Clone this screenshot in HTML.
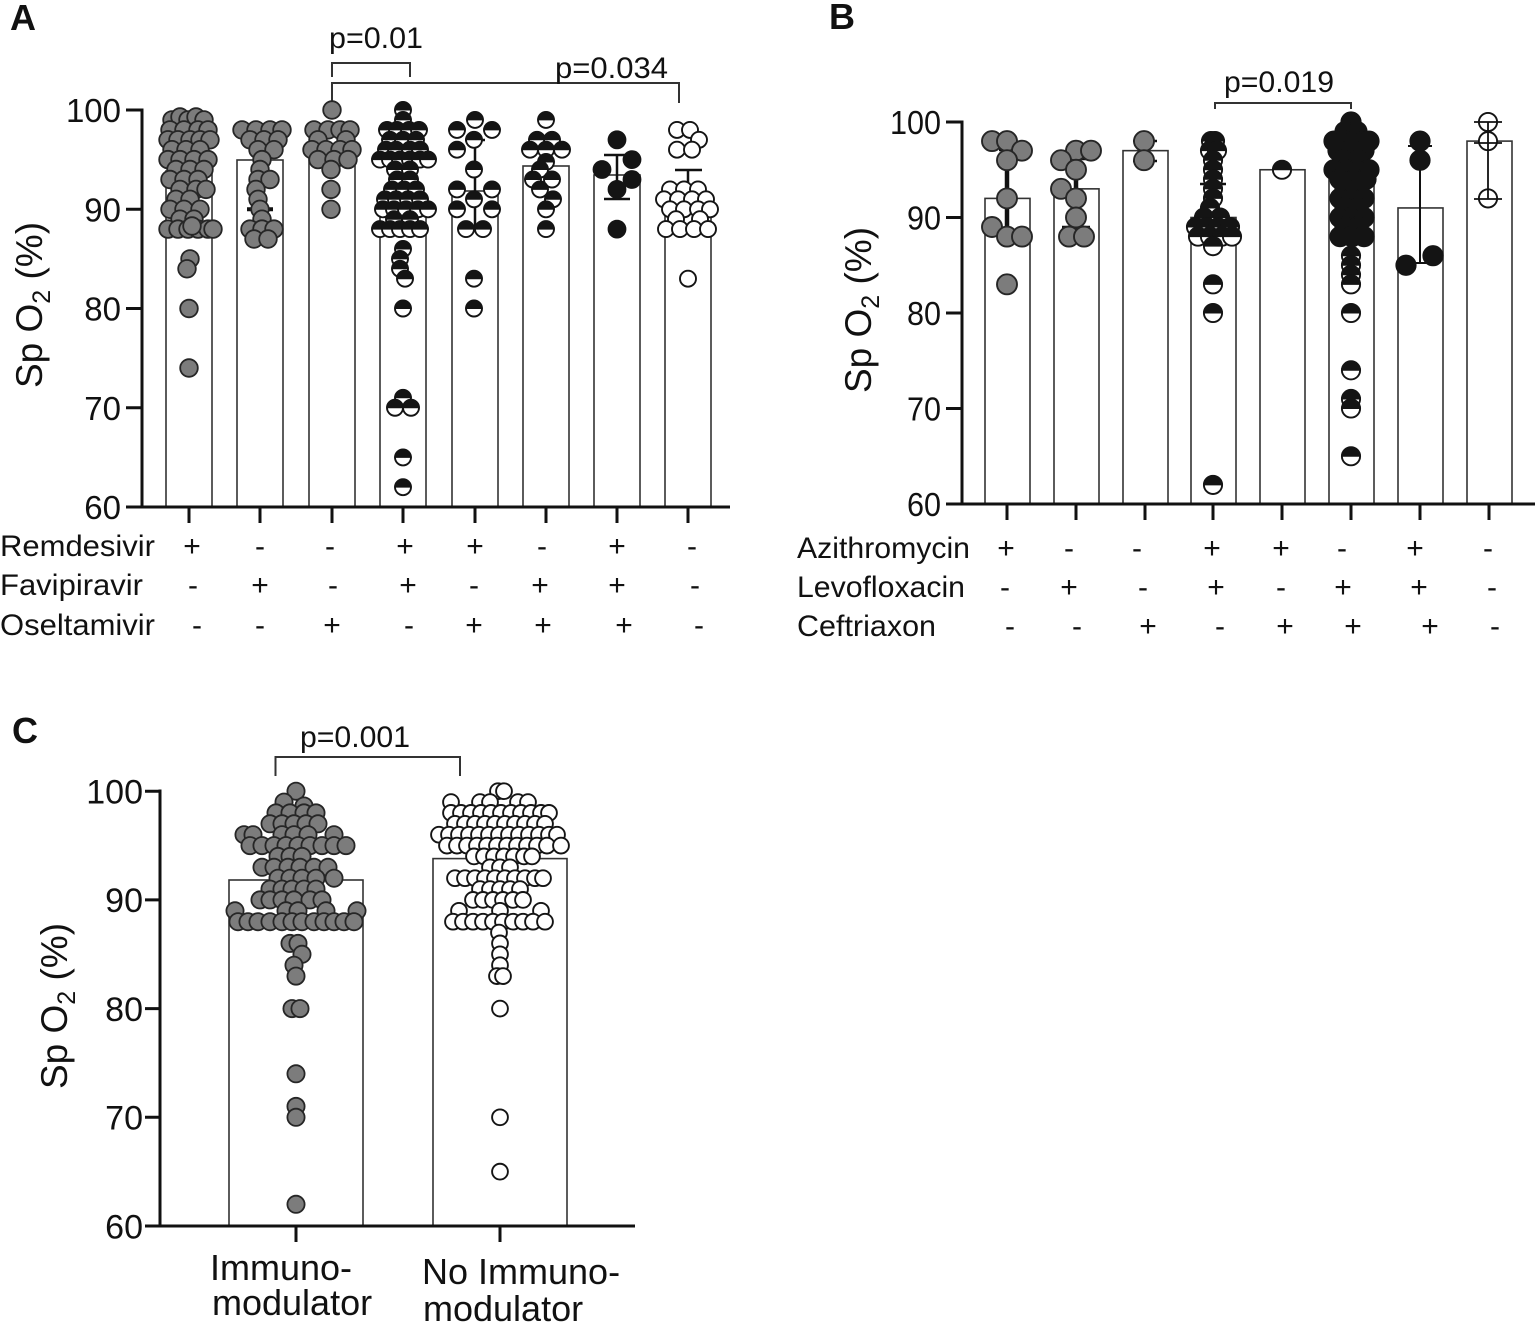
<!DOCTYPE html>
<html><head><meta charset="utf-8"><style>
html,body{margin:0;padding:0;background:#fff;}
svg{display:block;}
text{font-family:"Liberation Sans",Arial,sans-serif;fill:#111;}
</style></head><body>
<svg width="1535" height="1324" viewBox="0 0 1535 1324" xmlns="http://www.w3.org/2000/svg">
<defs>
<circle id="g8" r="8.8" fill="#7c7c7c" stroke="#262626" stroke-width="1.8"/>
<circle id="k8" r="8.8" fill="#141414" stroke="#141414" stroke-width="1.2"/>
<circle id="o8" r="8" fill="#fff" stroke="#141414" stroke-width="1.9"/>
<g id="h8"><circle r="8" fill="#fff" stroke="#141414" stroke-width="1.9"/><path d="M-8.8,0.5A8.8,8.8 0 0 1 8.8,0.5Z" fill="#141414"/></g>
<circle id="g9" r="10" fill="#7c7c7c" stroke="#262626" stroke-width="1.9"/>
<circle id="k9" r="10" fill="#141414" stroke="#141414" stroke-width="1.2"/>
<circle id="o9" r="9.1" fill="#fff" stroke="#141414" stroke-width="1.9"/>
<g id="h9"><circle r="9.1" fill="#fff" stroke="#141414" stroke-width="1.9"/><path d="M-10,0.5A10,10 0 0 1 10,0.5Z" fill="#141414"/></g>
<circle id="gc" r="8.6" fill="#7c7c7c" stroke="#262626" stroke-width="1.8"/>
<circle id="oc" r="7.9" fill="#fff" stroke="#141414" stroke-width="1.9"/>
</defs>

<!-- ================= PANEL A ================= -->
<text x="10" y="30" font-size="36" font-weight="bold">A</text>
<text transform="translate(42,305) rotate(-90)" text-anchor="middle" font-size="37">Sp O<tspan dy="8" font-size="25">2</tspan><tspan dy="-8"> (%)</tspan></text>
<g font-size="33" text-anchor="end">
<text x="121" y="122">100</text>
<text x="121" y="221.3">90</text>
<text x="121" y="320.5">80</text>
<text x="121" y="419.8">70</text>
<text x="121" y="519">60</text>
</g>
<g fill="#fff" stroke="#333" stroke-width="1.6">
<rect x="166" y="171" width="46" height="336"/>
<rect x="237" y="160" width="46" height="347"/>
<rect x="309" y="151" width="46" height="356"/>
<rect x="380" y="199.3" width="46" height="307.7"/>
<rect x="452" y="191" width="46" height="316"/>
<rect x="523" y="166" width="46" height="341"/>
<rect x="594" y="175" width="46" height="332"/>
<rect x="665" y="209.3" width="46" height="297.7"/>
</g>
<g stroke="#111" stroke-width="3" fill="none">
<path d="M142,108.5V507"/>
<path d="M126,110H142M126,209.3H142M126,308.5H142M126,407.75H142M126,507H142"/>
<path d="M140.5,507H730"/>
<path d="M189,507V523M260,507V523M332,507V523M403,507V523M475,507V523M546,507V523M617,507V523M688,507V523"/>
</g>
<g stroke="#333" stroke-width="2" fill="none">
<path d="M332,77V63H410V77"/>
<path d="M332,101V83H679V103"/>
</g>
<text x="329" y="48" font-size="30" textLength="94" lengthAdjust="spacingAndGlyphs">p=0.01</text>
<text x="555" y="78" font-size="30" textLength="113" lengthAdjust="spacingAndGlyphs">p=0.034</text>

<g>
<use href="#g8" x="172" y="119.9"/><use href="#g8" x="180" y="117"/><use href="#g8" x="188" y="119.9"/><use href="#g8" x="196" y="117"/><use href="#g8" x="204" y="119.9"/>
<use href="#g8" x="170" y="129.9"/><use href="#g8" x="184" y="129.9"/><use href="#g8" x="198" y="129.9"/><use href="#g8" x="208" y="129.9"/>
<use href="#g8" x="168" y="139.8"/><use href="#g8" x="178" y="139.8"/><use href="#g8" x="190" y="139.8"/><use href="#g8" x="200" y="139.8"/><use href="#g8" x="210" y="139.8"/>
<use href="#g8" x="172" y="149.7"/><use href="#g8" x="186" y="149.7"/><use href="#g8" x="200" y="149.7"/>
<use href="#g8" x="168" y="159.6"/><use href="#g8" x="180" y="159.6"/><use href="#g8" x="194" y="159.6"/><use href="#g8" x="208" y="159.6"/>
<use href="#g8" x="176" y="169.5"/><use href="#g8" x="190" y="169.5"/><use href="#g8" x="204" y="169.5"/>
<use href="#g8" x="170" y="179.5"/><use href="#g8" x="184" y="179.5"/><use href="#g8" x="198" y="179.5"/>
<use href="#g8" x="180" y="189.4"/><use href="#g8" x="196" y="189.4"/><use href="#g8" x="206" y="189.4"/>
<use href="#g8" x="176" y="199.3"/><use href="#g8" x="190" y="199.3"/>
<use href="#g8" x="170" y="209.3"/><use href="#g8" x="184" y="209.3"/><use href="#g8" x="200" y="209.3"/>
<use href="#g8" x="180" y="219.2"/><use href="#g8" x="194" y="219.2"/>
<use href="#g8" x="168" y="229.1"/><use href="#g8" x="178" y="229.1"/><use href="#g8" x="188" y="229.1"/><use href="#g8" x="198" y="229.1"/><use href="#g8" x="208" y="229.1"/><use href="#g8" x="213" y="229.1"/><use href="#g8" x="192" y="226"/>
<use href="#g8" x="190" y="258.9"/><use href="#g8" x="187" y="268.8"/><use href="#g8" x="189" y="308.5"/><use href="#g8" x="189" y="368"/>
</g>
<g>
<use href="#g8" x="242" y="129.9"/><use href="#g8" x="256" y="129.9"/><use href="#g8" x="270" y="129.9"/><use href="#g8" x="282" y="129.9"/>
<use href="#g8" x="250" y="139.8"/><use href="#g8" x="264" y="139.8"/><use href="#g8" x="278" y="139.8"/>
<use href="#g8" x="258" y="149.7"/><use href="#g8" x="274" y="149.7"/>
<use href="#g8" x="262" y="159.6"/><use href="#g8" x="260" y="169.5"/>
<use href="#g8" x="258" y="179.5"/><use href="#g8" x="270" y="179.5"/>
<use href="#g8" x="256" y="189.4"/><use href="#g8" x="258" y="199.3"/>
</g>
<path d="M247,209.3H273" stroke="#111" stroke-width="4"/>
<g>
<use href="#g8" x="260" y="209.3"/><use href="#g8" x="262" y="219.2"/>
<use href="#g8" x="250" y="229.1"/><use href="#g8" x="262" y="229.1"/><use href="#g8" x="274" y="229.1"/>
<use href="#g8" x="254" y="239"/><use href="#g8" x="268" y="239"/>
</g>
<g>
<use href="#g8" x="332" y="110"/>
<use href="#g8" x="314" y="129.9"/><use href="#g8" x="328" y="129.9"/><use href="#g8" x="340" y="129.9"/><use href="#g8" x="350" y="129.9"/>
<use href="#g8" x="318" y="139.8"/><use href="#g8" x="346" y="139.8"/>
<use href="#g8" x="312" y="149.7"/><use href="#g8" x="326" y="149.7"/><use href="#g8" x="340" y="149.7"/><use href="#g8" x="352" y="149.7"/>
<use href="#g8" x="318" y="159.6"/><use href="#g8" x="334" y="159.6"/><use href="#g8" x="348" y="159.6"/>
<use href="#g8" x="331" y="169.5"/><use href="#g8" x="331" y="189.4"/><use href="#g8" x="331" y="209.3"/>
</g>
<g>
<use href="#h8" x="403" y="110"/><use href="#h8" x="403" y="119.9"/>
<use href="#h8" x="387" y="129.9"/><use href="#h8" x="397" y="129.9"/><use href="#h8" x="409" y="129.9"/><use href="#h8" x="419" y="129.9"/>
<use href="#h8" x="390" y="139.8"/><use href="#h8" x="403" y="139.8"/><use href="#h8" x="416" y="139.8"/>
<use href="#h8" x="386" y="149.7"/><use href="#h8" x="396" y="149.7"/><use href="#h8" x="410" y="149.7"/><use href="#h8" x="420" y="149.7"/>
<use href="#h8" x="380" y="159.6"/><use href="#h8" x="390" y="159.6"/><use href="#h8" x="400" y="159.6"/><use href="#h8" x="410" y="159.6"/><use href="#h8" x="420" y="159.6"/><use href="#h8" x="428" y="159.6"/>
<use href="#h8" x="395" y="169.5"/><use href="#h8" x="410" y="169.5"/>
<use href="#h8" x="397" y="179.5"/><use href="#h8" x="410" y="179.5"/>
<use href="#h8" x="392" y="189.4"/><use href="#h8" x="404" y="189.4"/><use href="#h8" x="416" y="189.4"/>
<use href="#h8" x="385" y="199.3"/><use href="#h8" x="396" y="199.3"/><use href="#h8" x="408" y="199.3"/><use href="#h8" x="420" y="199.3"/>
<use href="#h8" x="383" y="209.3"/><use href="#h8" x="394" y="209.3"/><use href="#h8" x="406" y="209.3"/><use href="#h8" x="418" y="209.3"/><use href="#h8" x="428" y="209.3"/>
<use href="#h8" x="394" y="219.2"/><use href="#h8" x="410" y="219.2"/>
<use href="#h8" x="380" y="229.1"/><use href="#h8" x="390" y="229.1"/><use href="#h8" x="400" y="229.1"/><use href="#h8" x="410" y="229.1"/><use href="#h8" x="420" y="229.1"/>
<use href="#h8" x="403" y="249"/><use href="#h8" x="400" y="258.9"/><use href="#h8" x="400" y="268.8"/><use href="#h8" x="405" y="278.7"/>
<use href="#h8" x="403" y="308.5"/><use href="#h8" x="403" y="397.8"/>
<use href="#h8" x="395" y="407.75"/><use href="#h8" x="411" y="407.75"/>
<use href="#h8" x="403" y="457.4"/><use href="#h8" x="403" y="487.15"/>
</g>
<path d="M475,140V229M465,140H485" stroke="#111" stroke-width="2.5" fill="none"/>
<g>
<use href="#h8" x="475" y="119.9"/>
<use href="#h8" x="457" y="129.9"/><use href="#h8" x="492" y="129.9"/>
<use href="#h8" x="474" y="139.8"/><use href="#h8" x="457" y="149.7"/>
<use href="#h8" x="474" y="169.5"/>
<use href="#h8" x="457" y="189.4"/><use href="#h8" x="492" y="189.4"/>
<use href="#h8" x="474" y="199.3"/>
<use href="#h8" x="457" y="209.3"/><use href="#h8" x="492" y="209.3"/>
<use href="#h8" x="466" y="229.1"/><use href="#h8" x="483" y="229.1"/>
<use href="#h8" x="474" y="278.7"/><use href="#h8" x="474" y="308.5"/>
</g>
<g>
<use href="#h8" x="546" y="119.9"/>
<use href="#h8" x="537" y="139.8"/><use href="#h8" x="552" y="139.8"/>
<use href="#h8" x="530" y="149.7"/><use href="#h8" x="546" y="149.7"/><use href="#h8" x="562" y="149.7"/>
<use href="#h8" x="546" y="162"/><use href="#h8" x="540" y="169.5"/>
<use href="#h8" x="533" y="179.5"/><use href="#h8" x="552" y="179.5"/>
<use href="#h8" x="540" y="189.4"/><use href="#h8" x="553" y="199.3"/>
<use href="#h8" x="546" y="209.3"/><use href="#h8" x="546" y="229.1"/>
</g>
<path d="M617,155V199M604,155H630M604,199H630" stroke="#111" stroke-width="2.5" fill="none"/>
<g>
<use href="#k8" x="617" y="139.8"/><use href="#k8" x="632" y="159.6"/><use href="#k8" x="602" y="169.5"/>
<use href="#k8" x="632" y="179.5"/><use href="#k8" x="617" y="189.4"/><use href="#k8" x="617" y="229.1"/>
</g>
<path d="M688,170V209M675,170H702" stroke="#111" stroke-width="2.5" fill="none"/>
<g>
<use href="#o8" x="677" y="129.9"/><use href="#o8" x="690" y="129.9"/><use href="#o8" x="699" y="139.8"/>
<use href="#o8" x="677" y="149.7"/><use href="#o8" x="692" y="149.7"/>
<use href="#o8" x="670" y="189.4"/><use href="#o8" x="684" y="189.4"/><use href="#o8" x="698" y="189.4"/>
<use href="#o8" x="664" y="199.3"/><use href="#o8" x="678" y="199.3"/><use href="#o8" x="692" y="199.3"/><use href="#o8" x="706" y="199.3"/>
<use href="#o8" x="670" y="209.3"/><use href="#o8" x="684" y="209.3"/><use href="#o8" x="698" y="209.3"/><use href="#o8" x="710" y="209.3"/>
<use href="#o8" x="676" y="219.2"/><use href="#o8" x="700" y="219.2"/>
<use href="#o8" x="666" y="229.1"/><use href="#o8" x="680" y="229.1"/><use href="#o8" x="694" y="229.1"/><use href="#o8" x="708" y="229.1"/>
<use href="#o8" x="688" y="278.7"/>
</g>
<g font-size="30">
<text x="0" y="556" textLength="155" lengthAdjust="spacingAndGlyphs">Remdesivir</text>
<text x="0" y="595" textLength="143" lengthAdjust="spacingAndGlyphs">Favipiravir</text>
<text x="0" y="635" textLength="155" lengthAdjust="spacingAndGlyphs">Oseltamivir</text>
</g>
<g font-size="30" text-anchor="middle">
<text x="192" y="556">+</text><text x="260" y="556">-</text><text x="330" y="556">-</text><text x="405" y="556">+</text><text x="475" y="556">+</text><text x="542" y="556">-</text><text x="617" y="556">+</text><text x="692" y="556">-</text>
<text x="193" y="595">-</text><text x="260" y="595">+</text><text x="333" y="595">-</text><text x="408" y="595">+</text><text x="474" y="595">-</text><text x="540" y="595">+</text><text x="617" y="595">+</text><text x="695" y="595">-</text>
<text x="197" y="635">-</text><text x="260" y="635">-</text><text x="332" y="635">+</text><text x="409" y="635">-</text><text x="474" y="635">+</text><text x="543" y="635">+</text><text x="624" y="635">+</text><text x="699" y="635">-</text>
</g>

<!-- ================= PANEL B ================= -->
<text x="829" y="29" font-size="36" font-weight="bold">B</text>
<text transform="translate(871,310) rotate(-90)" text-anchor="middle" font-size="37">Sp O<tspan dy="8" font-size="25">2</tspan><tspan dy="-8"> (%)</tspan></text>
<g font-size="33" text-anchor="end">
<text x="941" y="134" textLength="51" lengthAdjust="spacingAndGlyphs">100</text>
<text x="941" y="229.5" textLength="34" lengthAdjust="spacingAndGlyphs">90</text>
<text x="941" y="325" textLength="34" lengthAdjust="spacingAndGlyphs">80</text>
<text x="941" y="420.5" textLength="34" lengthAdjust="spacingAndGlyphs">70</text>
<text x="941" y="516" textLength="34" lengthAdjust="spacingAndGlyphs">60</text>
</g>
<g fill="#fff" stroke="#333" stroke-width="1.6">
<rect x="985" y="198.4" width="45" height="305.6"/>
<rect x="1054" y="188.85" width="45" height="315.15"/>
<rect x="1123" y="150.65" width="45" height="353.35"/>
<rect x="1191" y="217.5" width="45" height="286.5"/>
<rect x="1260" y="169.75" width="45" height="334.25"/>
<rect x="1329" y="179.3" width="45" height="324.7"/>
<rect x="1398" y="207.95" width="45" height="296.05"/>
<rect x="1467" y="141.1" width="45" height="362.9"/>
</g>
<g stroke="#111" stroke-width="3" fill="none">
<path d="M962,120.5V504"/>
<path d="M946,122H962M946,217.5H962M946,313H962M946,408.5H962M946,504H962"/>
<path d="M960.5,504H1535"/>
<path d="M1007,504V520M1076,504V520M1145,504V520M1213,504V520M1282,504V520M1351,504V520M1420,504V520M1489,504V520"/>
</g>
<path d="M1215,109V103H1351V109" stroke="#333" stroke-width="2" fill="none"/>
<text x="1224" y="92" font-size="30" textLength="110" lengthAdjust="spacingAndGlyphs">p=0.019</text>
<path d="M1007,149V237M999,149H1017" stroke="#111" stroke-width="4.5" fill="none"/>
<g>
<use href="#g9" x="992" y="141.1"/><use href="#g9" x="1007" y="141.1"/><use href="#g9" x="1022" y="150.65"/>
<use href="#g9" x="1007" y="160.2"/><use href="#g9" x="1007" y="198.4"/><use href="#g9" x="992" y="227"/>
<use href="#g9" x="1007" y="236.6"/><use href="#g9" x="1022" y="236.6"/><use href="#g9" x="1007" y="284.35"/>
</g>
<path d="M1076,158V228M1062,158H1090M1062,228H1090" stroke="#111" stroke-width="4.5" fill="none"/>
<g>
<use href="#g9" x="1076" y="150.65"/><use href="#g9" x="1091" y="150.65"/><use href="#g9" x="1061" y="160.2"/>
<use href="#g9" x="1076" y="169.75"/><use href="#g9" x="1061" y="188.85"/><use href="#g9" x="1076" y="198.4"/>
<use href="#g9" x="1076" y="217.5"/><use href="#g9" x="1069" y="236.6"/><use href="#g9" x="1084" y="236.6"/>
</g>
<path d="M1145,141V161M1133,141H1157M1133,161H1157" stroke="#111" stroke-width="2.5" fill="none"/>
<use href="#g9" x="1144" y="141.1"/><use href="#g9" x="1144" y="160.2"/>
<path d="M1200,184H1226" stroke="#111" stroke-width="2.5"/>
<g>
<use href="#h9" x="1211" y="141.1"/><use href="#h9" x="1215" y="141.1"/>
<use href="#h9" x="1210" y="150.65"/><use href="#h9" x="1217" y="150.65"/>
<use href="#h9" x="1213" y="160.2"/><use href="#h9" x="1213" y="169.75"/><use href="#h9" x="1213" y="179.3"/>
<use href="#h9" x="1213" y="188.85"/><use href="#h9" x="1213" y="198.4"/><use href="#h9" x="1210" y="207.95"/>
<use href="#h9" x="1204" y="217.5"/><use href="#h9" x="1220" y="217.5"/>
<use href="#h9" x="1196" y="227"/><use href="#h9" x="1206" y="227"/><use href="#h9" x="1218" y="227"/><use href="#h9" x="1230" y="227"/>
<use href="#h9" x="1198" y="236.6"/><use href="#h9" x="1210" y="236.6"/><use href="#h9" x="1222" y="236.6"/><use href="#h9" x="1232" y="236.6"/>
<use href="#h9" x="1213" y="246.15"/><use href="#h9" x="1213" y="284.35"/><use href="#h9" x="1213" y="313"/><use href="#h9" x="1213" y="484.9"/>
</g>
<use href="#h9" x="1282" y="169.75"/>
<g>
<use href="#h9" x="1351" y="255.7"/><use href="#h9" x="1351" y="265.25"/><use href="#h9" x="1351" y="274.8"/><use href="#h9" x="1351" y="284.35"/>
<use href="#h9" x="1351" y="313"/><use href="#h9" x="1351" y="370.3"/><use href="#h9" x="1351" y="398.95"/><use href="#h9" x="1351" y="408.5"/><use href="#h9" x="1351" y="456.25"/>
<use href="#k9" x="1351" y="122"/>
<use href="#k9" x="1345" y="131.55"/><use href="#k9" x="1357" y="131.55"/>
<use href="#k9" x="1334" y="141.1"/><use href="#k9" x="1344" y="141.1"/><use href="#k9" x="1354" y="141.1"/><use href="#k9" x="1364" y="141.1"/><use href="#k9" x="1369" y="141.1"/>
<use href="#k9" x="1338" y="150.65"/><use href="#k9" x="1351" y="150.65"/><use href="#k9" x="1364" y="150.65"/>
<use href="#k9" x="1343" y="160.2"/><use href="#k9" x="1358" y="160.2"/>
<use href="#k9" x="1334" y="169.75"/><use href="#k9" x="1346" y="169.75"/><use href="#k9" x="1358" y="169.75"/><use href="#k9" x="1369" y="169.75"/>
<use href="#k9" x="1340" y="179.3"/><use href="#k9" x="1355" y="179.3"/><use href="#k9" x="1366" y="179.3"/>
<use href="#k9" x="1345" y="188.85"/><use href="#k9" x="1358" y="188.85"/>
<use href="#k9" x="1340" y="198.4"/><use href="#k9" x="1352" y="198.4"/><use href="#k9" x="1364" y="198.4"/>
<use href="#k9" x="1345" y="207.95"/><use href="#k9" x="1358" y="207.95"/>
<use href="#k9" x="1340" y="217.5"/><use href="#k9" x="1352" y="217.5"/><use href="#k9" x="1364" y="217.5"/>
<use href="#k9" x="1345" y="227"/><use href="#k9" x="1358" y="227"/>
<use href="#k9" x="1340" y="236.6"/><use href="#k9" x="1352" y="236.6"/><use href="#k9" x="1364" y="236.6"/>
</g>
<path d="M1420,146V263M1408,146H1432M1408,263H1432" stroke="#111" stroke-width="2" fill="none"/>
<g>
<use href="#k9" x="1420" y="141.1"/><use href="#k9" x="1420" y="160.2"/>
<use href="#k9" x="1433" y="255.7"/><use href="#k9" x="1406" y="265.25"/>
</g>
<g>
<use href="#o9" x="1488" y="122"/><use href="#o9" x="1488" y="141.1"/><use href="#o9" x="1488" y="198.4"/>
</g>
<path d="M1488,122V199M1474,122H1502M1474,143H1502M1474,199H1502" stroke="#111" stroke-width="1.8" fill="none"/>
<g font-size="30">
<text x="797" y="558" textLength="173" lengthAdjust="spacingAndGlyphs">Azithromycin</text>
<text x="797" y="597" textLength="168" lengthAdjust="spacingAndGlyphs">Levofloxacin</text>
<text x="797" y="636" textLength="139" lengthAdjust="spacingAndGlyphs">Ceftriaxon</text>
</g>
<g font-size="30" text-anchor="middle">
<text x="1006" y="558">+</text><text x="1069" y="558">-</text><text x="1137" y="558">-</text><text x="1212" y="558">+</text><text x="1281" y="558">+</text><text x="1342" y="558">-</text><text x="1415" y="558">+</text><text x="1488" y="558">-</text>
<text x="1005" y="597">-</text><text x="1069" y="597">+</text><text x="1143" y="597">-</text><text x="1216" y="597">+</text><text x="1281" y="597">-</text><text x="1343" y="597">+</text><text x="1419" y="597">+</text><text x="1492" y="597">-</text>
<text x="1010" y="636">-</text><text x="1077" y="636">-</text><text x="1148" y="636">+</text><text x="1220" y="636">-</text><text x="1285" y="636">+</text><text x="1353" y="636">+</text><text x="1430" y="636">+</text><text x="1495" y="636">-</text>
</g>

<!-- ================= PANEL C ================= -->
<text x="12" y="743" font-size="36" font-weight="bold">C</text>
<text transform="translate(67,1006) rotate(-90)" text-anchor="middle" font-size="37">Sp O<tspan dy="8" font-size="25">2</tspan><tspan dy="-8"> (%)</tspan></text>
<g font-size="34" text-anchor="end">
<text x="143" y="803.5">100</text>
<text x="143" y="912.2">90</text>
<text x="143" y="1020.9">80</text>
<text x="143" y="1129.6">70</text>
<text x="143" y="1238.3">60</text>
</g>
<g fill="#fff" stroke="#333" stroke-width="1.6">
<rect x="229" y="880" width="134" height="346"/>
<rect x="433" y="858.6" width="134" height="367.4"/>
</g>
<g stroke="#111" stroke-width="3" fill="none">
<path d="M160,789.5V1226"/>
<path d="M145,791.2H160M145,899.9H160M145,1008.6H160M145,1117.3H160M145,1226H160"/>
<path d="M158.5,1226H635"/>
<path d="M296,1226V1242M500,1226V1242"/>
</g>
<path d="M275.5,776V757H460V776" stroke="#333" stroke-width="2" fill="none"/>
<text x="300" y="747" font-size="30" textLength="110" lengthAdjust="spacingAndGlyphs">p=0.001</text>
<g>
<use href="#gc" x="296" y="791.2"/><use href="#gc" x="284" y="802.1"/><use href="#gc" x="304" y="806"/>
<use href="#gc" x="276" y="812.9"/><use href="#gc" x="290" y="812.9"/><use href="#gc" x="304" y="812.9"/><use href="#gc" x="316" y="812.9"/>
<use href="#gc" x="270" y="823.8"/><use href="#gc" x="282" y="823.8"/><use href="#gc" x="294" y="823.8"/><use href="#gc" x="306" y="823.8"/><use href="#gc" x="318" y="823.8"/>
<use href="#gc" x="244" y="834.7"/><use href="#gc" x="253" y="834.7"/><use href="#gc" x="282" y="834.7"/><use href="#gc" x="294" y="834.7"/><use href="#gc" x="308" y="834.7"/><use href="#gc" x="334" y="834.7"/>
<use href="#gc" x="250" y="845.6"/><use href="#gc" x="262" y="845.6"/><use href="#gc" x="274" y="845.6"/><use href="#gc" x="286" y="845.6"/><use href="#gc" x="298" y="845.6"/><use href="#gc" x="310" y="845.6"/><use href="#gc" x="322" y="845.6"/><use href="#gc" x="334" y="845.6"/><use href="#gc" x="346" y="845.6"/>
<use href="#gc" x="278" y="856.4"/><use href="#gc" x="290" y="856.4"/><use href="#gc" x="302" y="856.4"/>
<use href="#gc" x="262" y="867.3"/><use href="#gc" x="274" y="867.3"/><use href="#gc" x="288" y="867.3"/><use href="#gc" x="300" y="867.3"/><use href="#gc" x="314" y="867.3"/><use href="#gc" x="328" y="867.3"/>
<use href="#gc" x="278" y="878.2"/><use href="#gc" x="290" y="878.2"/><use href="#gc" x="302" y="878.2"/><use href="#gc" x="316" y="878.2"/><use href="#gc" x="334" y="878.2"/>
<use href="#gc" x="270" y="889.1"/><use href="#gc" x="282" y="889.1"/><use href="#gc" x="292" y="889.1"/><use href="#gc" x="304" y="889.1"/><use href="#gc" x="316" y="889.1"/>
<use href="#gc" x="260" y="899.9"/><use href="#gc" x="270" y="899.9"/><use href="#gc" x="282" y="899.9"/><use href="#gc" x="294" y="899.9"/><use href="#gc" x="310" y="899.9"/><use href="#gc" x="322" y="899.9"/>
<use href="#gc" x="235" y="910.8"/><use href="#gc" x="286" y="910.8"/><use href="#gc" x="298" y="910.8"/><use href="#gc" x="326" y="910.8"/><use href="#gc" x="357" y="910.8"/>
<use href="#gc" x="238" y="921.7"/><use href="#gc" x="248" y="921.7"/><use href="#gc" x="258" y="921.7"/><use href="#gc" x="270" y="921.7"/><use href="#gc" x="282" y="921.7"/><use href="#gc" x="292" y="921.7"/><use href="#gc" x="302" y="921.7"/><use href="#gc" x="314" y="921.7"/><use href="#gc" x="324" y="921.7"/><use href="#gc" x="334" y="921.7"/><use href="#gc" x="344" y="921.7"/><use href="#gc" x="354" y="921.7"/>
<use href="#gc" x="290" y="943.4"/><use href="#gc" x="298" y="943.4"/><use href="#gc" x="302" y="954.3"/><use href="#gc" x="294" y="965.2"/><use href="#gc" x="296" y="976.1"/>
<use href="#gc" x="292" y="1008.6"/><use href="#gc" x="300" y="1008.6"/>
<use href="#gc" x="296" y="1073.8"/><use href="#gc" x="296" y="1106.4"/><use href="#gc" x="296" y="1117.3"/><use href="#gc" x="296" y="1204.3"/>
</g>
<g>
<use href="#oc" x="498" y="791.2"/><use href="#oc" x="504" y="791.2"/>
<use href="#oc" x="451" y="802.1"/><use href="#oc" x="480" y="802.1"/><use href="#oc" x="490" y="802.1"/><use href="#oc" x="518" y="802.1"/><use href="#oc" x="528" y="802.1"/>
<use href="#oc" x="451" y="812.9"/><use href="#oc" x="461" y="812.9"/><use href="#oc" x="471" y="812.9"/><use href="#oc" x="481" y="812.9"/><use href="#oc" x="491" y="812.9"/><use href="#oc" x="501" y="812.9"/><use href="#oc" x="511" y="812.9"/><use href="#oc" x="521" y="812.9"/><use href="#oc" x="531" y="812.9"/><use href="#oc" x="541" y="812.9"/><use href="#oc" x="549" y="812.9"/>
<use href="#oc" x="455" y="823.8"/><use href="#oc" x="465" y="823.8"/><use href="#oc" x="475" y="823.8"/><use href="#oc" x="485" y="823.8"/><use href="#oc" x="495" y="823.8"/><use href="#oc" x="505" y="823.8"/><use href="#oc" x="515" y="823.8"/><use href="#oc" x="525" y="823.8"/><use href="#oc" x="535" y="823.8"/><use href="#oc" x="545" y="823.8"/>
<use href="#oc" x="439" y="834.7"/><use href="#oc" x="449" y="834.7"/><use href="#oc" x="459" y="834.7"/><use href="#oc" x="469" y="834.7"/><use href="#oc" x="479" y="834.7"/><use href="#oc" x="489" y="834.7"/><use href="#oc" x="499" y="834.7"/><use href="#oc" x="509" y="834.7"/><use href="#oc" x="519" y="834.7"/><use href="#oc" x="529" y="834.7"/><use href="#oc" x="539" y="834.7"/><use href="#oc" x="549" y="834.7"/><use href="#oc" x="557" y="834.7"/>
<use href="#oc" x="447" y="845.6"/><use href="#oc" x="457" y="845.6"/><use href="#oc" x="467" y="845.6"/><use href="#oc" x="477" y="845.6"/><use href="#oc" x="487" y="845.6"/><use href="#oc" x="497" y="845.6"/><use href="#oc" x="507" y="845.6"/><use href="#oc" x="517" y="845.6"/><use href="#oc" x="527" y="845.6"/><use href="#oc" x="537" y="845.6"/><use href="#oc" x="547" y="845.6"/><use href="#oc" x="561" y="845.6"/>
<use href="#oc" x="474" y="856.4"/><use href="#oc" x="484" y="856.4"/><use href="#oc" x="494" y="856.4"/><use href="#oc" x="504" y="856.4"/><use href="#oc" x="514" y="856.4"/><use href="#oc" x="524" y="856.4"/><use href="#oc" x="532" y="856.4"/>
<use href="#oc" x="490" y="867.3"/><use href="#oc" x="500" y="867.3"/><use href="#oc" x="510" y="867.3"/>
<use href="#oc" x="455" y="878.2"/><use href="#oc" x="465" y="878.2"/><use href="#oc" x="475" y="878.2"/><use href="#oc" x="485" y="878.2"/><use href="#oc" x="495" y="878.2"/><use href="#oc" x="505" y="878.2"/><use href="#oc" x="515" y="878.2"/><use href="#oc" x="525" y="878.2"/><use href="#oc" x="535" y="878.2"/><use href="#oc" x="543" y="878.2"/>
<use href="#oc" x="480" y="889.1"/><use href="#oc" x="490" y="889.1"/><use href="#oc" x="500" y="889.1"/><use href="#oc" x="510" y="889.1"/><use href="#oc" x="520" y="889.1"/>
<use href="#oc" x="473" y="899.9"/><use href="#oc" x="483" y="899.9"/><use href="#oc" x="493" y="899.9"/><use href="#oc" x="503" y="899.9"/><use href="#oc" x="513" y="899.9"/><use href="#oc" x="523" y="899.9"/>
<use href="#oc" x="459" y="910.8"/><use href="#oc" x="500" y="910.8"/><use href="#oc" x="541" y="910.8"/>
<use href="#oc" x="453" y="921.7"/><use href="#oc" x="463" y="921.7"/><use href="#oc" x="473" y="921.7"/><use href="#oc" x="483" y="921.7"/><use href="#oc" x="493" y="921.7"/><use href="#oc" x="503" y="921.7"/><use href="#oc" x="513" y="921.7"/><use href="#oc" x="523" y="921.7"/><use href="#oc" x="533" y="921.7"/><use href="#oc" x="545" y="921.7"/>
<use href="#oc" x="499" y="932.6"/><use href="#oc" x="500" y="943.4"/><use href="#oc" x="500" y="954.3"/><use href="#oc" x="500" y="965.2"/>
<use href="#oc" x="497" y="976.1"/><use href="#oc" x="503" y="976.1"/>
<use href="#oc" x="500" y="1008.6"/><use href="#oc" x="500" y="1117.3"/><use href="#oc" x="500" y="1171.65"/>
</g>
<g font-size="36">
<text x="210" y="1280">Immuno-</text>
<text x="212" y="1315">modulator</text>
<text x="422" y="1284">No Immuno-</text>
<text x="423" y="1321">modulator</text>
</g>
</svg>
</body></html>
